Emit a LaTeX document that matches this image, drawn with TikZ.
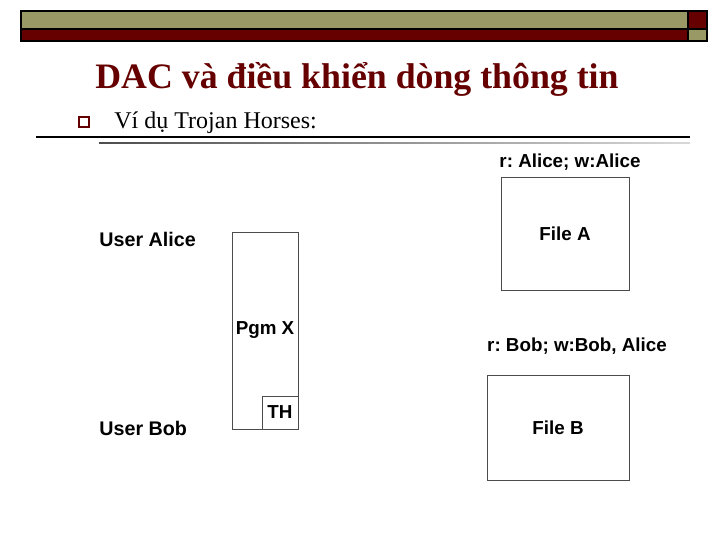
\documentclass[tikz,border=0pt]{standalone}
\usepackage{fontspec}
\setmainfont{Liberation Serif}
\newfontfamily\labelfont{Liberation Sans}
\definecolor{olivebar}{RGB}{153,153,102}
\definecolor{darkred}{RGB}{102,0,0}
\frenchspacing
\begin{document}
\begin{tikzpicture}[style=thick,x=1pt,y=-1pt]
\tikzstyle{bar}=[draw=black, line width=1.6pt]
\tikzstyle{box}=[draw=black!70, line width=0.8pt, inner sep=0pt, font=\labelfont\bfseries\fontsize{18.8}{20}\selectfont]
\tikzstyle{lbl}=[inner sep=0pt, font=\labelfont\bfseries\fontsize{18.8}{20}\selectfont]
\tikzstyle{user}=[lbl, anchor=west, font=\labelfont\bfseries\fontsize{19.7}{21}\selectfont]
\useasboundingbox (0,0) rectangle (720,540);
\fill[white] (0,0) rectangle (720,540);

\filldraw[bar, fill=olivebar] (21,11) rectangle (688,29);
\filldraw[bar, fill=darkred] (688,11) rectangle (707,29);
\filldraw[bar, fill=darkred] (21,29) rectangle (688,41);
\filldraw[bar, fill=olivebar] (688,29) rectangle (707,41);

\node[anchor=base, inner sep=0pt, text=darkred, font=\bfseries\fontsize{35.8}{40}\selectfont] (title) at (357,89) {DAC và điều khiển dòng thông tin};
\draw[darkred, line width=1.4pt] (79,117) rectangle (89,127);
\node[anchor=base west, inner sep=0pt, font=\fontsize{24}{26}\selectfont] (bullet) at (114,129) {Ví dụ Trojan Horses:};
\draw[line width=1.5pt] (36,137) -- (690,137);
\shade[left color=black!70, right color=black!15] (99,142.5) rectangle (690,144);

\node[user] (alice) at (99,239) {User Alice};
\node[user] (bob) at (99,428) {User Bob};
\node[box, minimum width=66pt, minimum height=197pt] (pgm) at (265,330.5) {Pgm X};
\node[box, minimum width=36pt, minimum height=33pt] (th) at (280,412.5) {TH};
\node[lbl] (acla) at (570,162) {r: Alice; w:Alice};
\node[box, minimum width=128pt, minimum height=113pt] (fa) at (565,233.5) {File A};
\node[lbl] (aclb) at (577,346) {r: Bob; w:Bob, Alice};
\node[box, minimum width=142pt, minimum height=105pt] (fb) at (558,427.5) {File B};
\end{tikzpicture}
\end{document}
